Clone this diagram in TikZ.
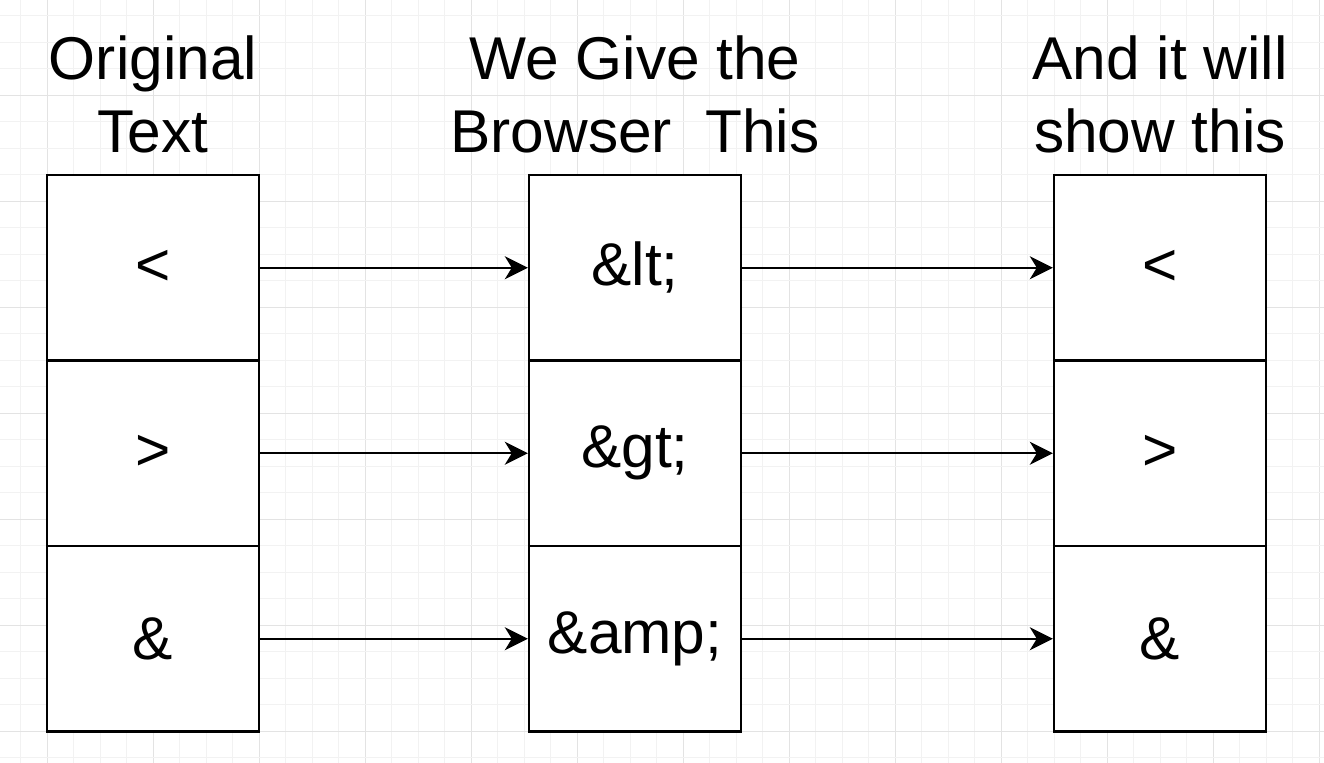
\documentclass[tikz,border=0pt]{standalone}
\usepackage{fontspec}
\setmainfont{Liberation Sans}
\usetikzlibrary{arrows.meta,calc,positioning}
\tikzset{
    >={Stealth[length=11.5pt,width=11.5pt,inset=3.5pt]},
    kasse/.style={
           rectangle,
           draw=black, line width=1.2pt,
           fill=white,
           minimum width=106pt,
           minimum height=92.75pt,
           inner sep=0pt,
           font=\fontsize{30.2pt}{36.5pt}\selectfont},
    titel/.style={
           align=center,
           inner sep=0pt,
           font=\fontsize{30.2pt}{36.5pt}\selectfont},
    pil/.style={
           ->,
           line width=1pt}
}
\begin{document}
\begin{tikzpicture}[x=0.5pt,y=-0.5pt]
          \def \cell {26.5}
          \useasboundingbox (0,0) rectangle (1324,763);
          \fill[white] (0,0) rectangle (1324,763);
          % grid
          \foreach \i in {0,...,50} {
            \pgfmathtruncatemacro{\major}{mod(\i,4)==2}
            \ifnum\major=1 \def\gc{black!11}\else\def\gc{black!5}\fi
            \draw[\gc, line width=0.5pt] ({-6+\cell*\i},0) -- ({-6+\cell*\i},763);
          }
          \foreach \j in {0,...,28} {
            \pgfmathtruncatemacro{\major}{mod(\j,4)==3}
            \ifnum\major=1 \def\gc{black!11}\else\def\gc{black!5}\fi
            \draw[\gc, line width=0.5pt] (0,{16+\cell*\j}) -- (1324,{16+\cell*\j});
          }
          % columns
          \node[kasse](olt) at (153,267.75) {<};
          \node[kasse](ogt) at (153,453.25) {>};
          \node[kasse](oamp) at (153,638.75) {\&};
          \node[kasse](blt) at (635,267.75) {\&lt;};
          \node[kasse](bgt) at (635,453.25) {\&gt;};
          \node[kasse](bamp) at (635,638.75) {\&amp;};
          \node[kasse](slt) at (1160,267.75) {<};
          \node[kasse](sgt) at (1160,453.25) {>};
          \node[kasse](samp) at (1160,638.75) {\&};
          \node[titel, anchor=south](otitel) at ($(olt.north)+(0,-20)$) {Original\\Text};
          \node[titel, anchor=south](btitel) at ($(blt.north)+(0,-20)$) {We Give the\\Browser\ \ This};
          \node[titel, anchor=south](stitel) at ($(slt.north)+(0,-20)$) {And it will\\show this};
          \draw[pil] (olt) -- (blt);
          \draw[pil] (ogt) -- (bgt);
          \draw[pil] (oamp) -- (bamp);
          \draw[pil] (blt) -- (slt);
          \draw[pil] (bgt) -- (sgt);
          \draw[pil] (bamp) -- (samp);
\end{tikzpicture}
\end{document}
